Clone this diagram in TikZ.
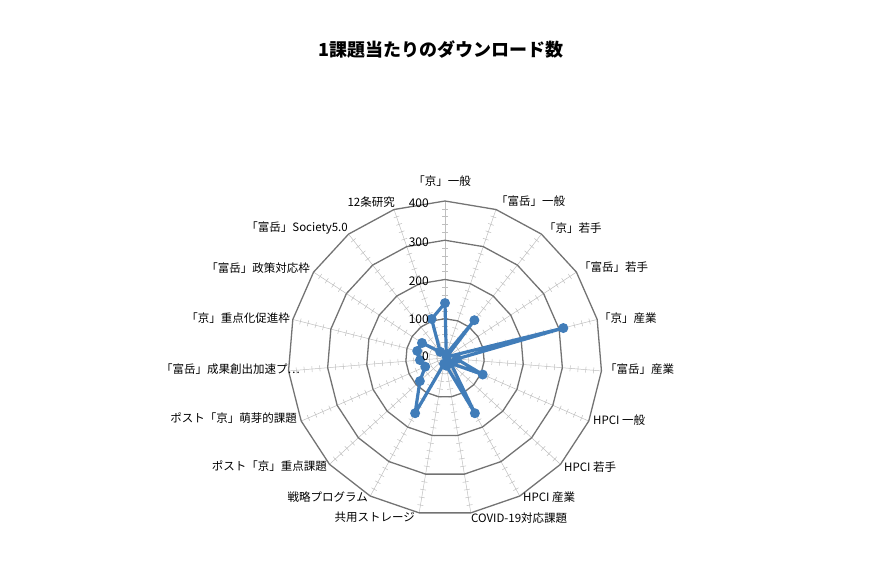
\documentclass[tikz,border=0pt]{standalone}
\usepackage{fontspec}
\usetikzlibrary{calc}
\setmainfont{Noto Sans CJK JP}
\definecolor{serc}{RGB}{65,125,185}
\begin{document}
\begin{tikzpicture}[x=1pt,y=-1pt,
  lab/.style={font=\fontsize{11.5}{12}\selectfont,inner sep=1pt,text=black},
  num/.style={font=\fontsize{12}{12}\selectfont,inner sep=1pt,anchor=east,text=black},
  ring/.style={draw=black!55,line width=1.3pt},
  spoke/.style={draw=black!25,line width=0.5pt},
  ser/.style={draw=serc,line width=3.2pt,line join=round}]
\useasboundingbox (0,0) rectangle (879,561);
\node[font=\bfseries\fontsize{18}{18}\selectfont] (title) at (441,50) {1課題当たりのダウンロード数};
\coordinate (O) at (445,358);
\def\R{39.25}
\foreach \i in {0,...,18}{
  \pgfmathsetmacro\a{\i*360/19}
  \draw[spoke] (O) -- ++({4*\R*sin(\a)},{-4*\R*cos(\a)});
  \foreach \t in {1,...,19}{
    \pgfmathsetmacro\r{\t*0.2*\R}
    \draw[spoke] ($(O)+({\r*sin(\a)},{-\r*cos(\a)})+({3*cos(\a)},{3*sin(\a)})$) -- ++({-6*cos(\a)},{-6*sin(\a)});
  }
}
\foreach \k in {1,...,4}{
  \draw[ring] ($(O)+(0,{-\k*\R})$) \foreach \i in {1,...,18}{ -- ($(O)+({\k*\R*sin(\i*360/19)},{-\k*\R*cos(\i*360/19)})$)} -- cycle;
}
\def\vals{140,10,122,5,311,30,105,20,160,20,15,160,87,55,64,73,70,20,105}
\foreach \v [count=\j from 0] in \vals{
  \pgfmathsetmacro\a{\j*360/19}
  \coordinate (d\j) at ($(O)+({\v/100*\R*sin(\a)},{-\v/100*\R*cos(\a)})$);
}
\draw[ser] (d0) \foreach \j in {1,...,18}{ -- (d\j)} -- cycle;
\foreach \j in {0,...,18}{ \fill[serc] (d\j) circle (5pt); }
\node[num] (n0) at (430,356) {0};
\node[num] (n1) at (430,319) {100};
\node[num] (n2) at (430,281) {200};
\node[num] (n3) at (430,242) {300};
\node[num] (n4) at (430,203) {400};
\node[lab] (l0) at (442,181) {「京」一般};
\node[lab,anchor=west] (l1) at (495,201) {「富岳」一般};
\node[lab,anchor=west] (l2) at (543,228) {「京」若手};
\node[lab,anchor=west] (l3) at (578,267) {「富岳」若手};
\node[lab,anchor=west] (l4) at (598,318) {「京」産業};
\node[lab,anchor=west] (l5) at (604,369) {「富岳」産業};
\node[lab,anchor=west] (l6) at (592,420) {HPCI 一般};
\node[lab,anchor=west] (l7) at (563,467) {HPCI 若手};
\node[lab,anchor=west] (l8) at (522,497) {HPCI 産業};
\node[lab,anchor=west] (l9) at (470,518) {COVID-19対応課題};
\node[lab,anchor=east] (l10) at (416,517) {共用ストレージ};
\node[lab,anchor=east] (l11) at (369,497) {戦略プログラム};
\node[lab,anchor=east] (l12) at (328,466) {ポスト「京」重点課題};
\node[lab,anchor=east] (l13) at (298,418) {ポスト「京」萌芽的課題};
\node[lab,anchor=east] (l14) at (301,369) {「富岳」成果創出加速プ…};
\node[lab,anchor=east] (l15) at (291,318) {「京」重点化促進枠};
\node[lab,anchor=east] (l16) at (311,268) {「富岳」政策対応枠};
\node[lab,anchor=east] (l17) at (349,228) {「富岳」Society5.0};
\node[lab,anchor=east] (l18) at (396,202) {12条研究};
\end{tikzpicture}
\end{document}
